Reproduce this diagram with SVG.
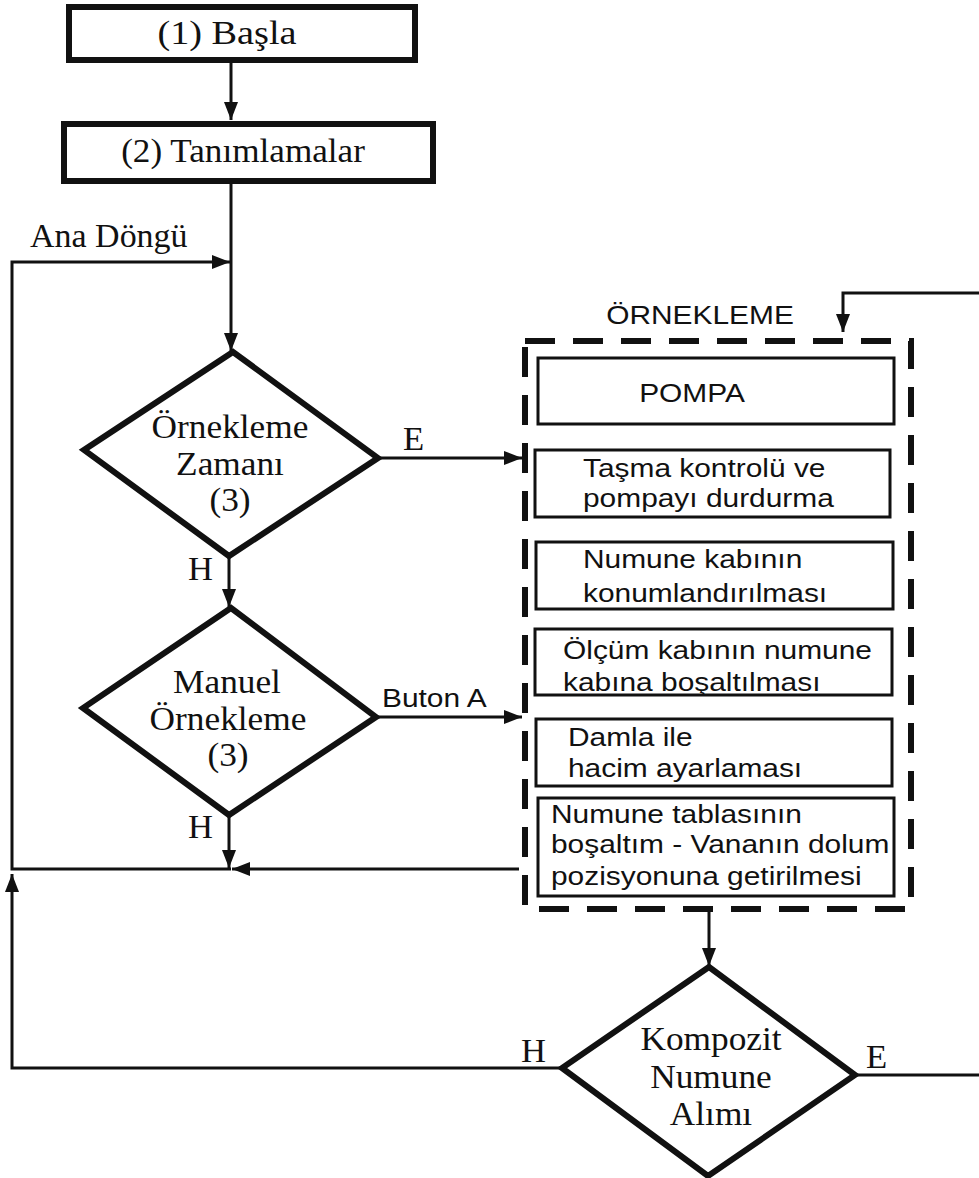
<svg xmlns="http://www.w3.org/2000/svg" width="979" height="1178" viewBox="0 0 979 1178">
<defs>
<marker id="ah" markerUnits="userSpaceOnUse" markerWidth="20" markerHeight="16" refX="18" refY="8" orient="auto">
<path d="M0,1 L18,8 L0,15 Z" fill="#111"/>
</marker>
<style>
.bold{fill:#fff;stroke:#111;stroke-width:6}
.thin{fill:#fff;stroke:#111;stroke-width:3}
.dia{fill:#fff;stroke:#111;stroke-width:6;stroke-linejoin:miter}
.dash{fill:none;stroke:#111;stroke-width:6;stroke-dasharray:30 18}
.conn{fill:none;stroke:#111;stroke-width:3}
.serif{font-family:"Liberation Serif","Times New Roman",serif;font-size:33px;fill:#111}
.sans{font-family:"Liberation Sans",Arial,sans-serif;font-size:26px;fill:#111}
.mid{text-anchor:middle}
</style>
</defs>
<rect width="979" height="1178" fill="#fff"/>

<g id="connectors">
<path class="conn" d="M231,63 V120" marker-end="url(#ah)"/>
<path class="conn" d="M231,184 V351" marker-end="url(#ah)"/>
<path class="conn" d="M231,869 H12 V262 H230" marker-end="url(#ah)"/>
<path class="conn" d="M378,458 H522" marker-end="url(#ah)"/>
<path class="conn" d="M229,556 V607" marker-end="url(#ah)"/>
<path class="conn" d="M376,717 H522" marker-end="url(#ah)"/>
<path class="conn" d="M229,814 V868" marker-end="url(#ah)"/>
<path class="conn" d="M519,869 H232" marker-end="url(#ah)"/>
<path class="conn" d="M709,910 V966" marker-end="url(#ah)"/>
<path class="conn" d="M562,1068 H12 V874" marker-end="url(#ah)"/>
<path class="conn" d="M855,1075 H995 V293 H843 V332" marker-end="url(#ah)"/>
<text class="serif" font-size="34" transform="matrix(1.03 0 0 1 30 247)">Ana Döngü</text>
<text class="serif" transform="matrix(1.05 0 0 1 403 450)">E</text>
<text class="serif" transform="matrix(1.05 0 0 1 188 580)">H</text>
<text class="sans" font-size="25" transform="matrix(1.15 0 0 1 382 707)">Buton A</text>
<text class="serif" transform="matrix(1.05 0 0 1 188 838)">H</text>
<text class="serif" transform="matrix(1.05 0 0 1 521 1062)">H</text>
<text class="serif" transform="matrix(1.05 0 0 1 866 1068)">E</text>
</g>

<g id="n1">
<rect class="bold" x="69" y="7" width="346" height="53"/>
<text class="serif mid" font-size="30" transform="matrix(1.16 0 0 1 227 44)">(1) Başla</text>
</g>
<g id="n2">
<rect class="bold" x="64" y="124" width="369" height="57"/>
<text class="serif mid" transform="matrix(1.065 0 0 1 243 162)">(2) Tanımlamalar</text>
</g>

<g id="d1">
<polygon class="dia" points="233,352 378,458 229,556 84,450"/>
<text class="serif mid" transform="matrix(1.07 0 0 1 230 438)">Örnekleme</text>
<text class="serif mid" transform="matrix(1.07 0 0 1 230 475)">Zamanı</text>
<text class="serif mid" transform="matrix(1.07 0 0 1 230 511)">(3)</text>
</g>

<g id="d2">
<polygon class="dia" points="231,608 376,717 229,815 83,708"/>
<text class="serif mid" transform="matrix(1.07 0 0 1 227 693)">Manuel</text>
<text class="serif mid" transform="matrix(1.07 0 0 1 228 730)">Örnekleme</text>
<text class="serif mid" transform="matrix(1.07 0 0 1 228 766)">(3)</text>
</g>

<g id="ornekleme">
<rect class="dash" x="525" y="341" width="386" height="568"/>
<text class="sans mid" transform="matrix(1.15 0 0 1 700 324)">ÖRNEKLEME</text>
</g>

<g id="b1">
<rect class="thin" x="538" y="358" width="356" height="66"/>
<text class="sans mid" transform="matrix(1.15 0 0 1 692 402)">POMPA</text>
</g>
<g id="b2">
<rect class="thin" x="535" y="450" width="355" height="67"/>
<text class="sans" transform="matrix(1.15 0 0 1 583 477)">Taşma kontrolü ve</text>
<text class="sans" transform="matrix(1.15 0 0 1 583 507)">pompayı durdurma</text>
</g>
<g id="b3">
<rect class="thin" x="536" y="542" width="357" height="67"/>
<text class="sans" transform="matrix(1.15 0 0 1 583 568)">Numune kabının</text>
<text class="sans" transform="matrix(1.15 0 0 1 583 602)">konumlandırılması</text>
</g>
<g id="b4">
<rect class="thin" x="535" y="629" width="357" height="66"/>
<text class="sans" transform="matrix(1.15 0 0 1 563 659)">Ölçüm kabının numune</text>
<text class="sans" transform="matrix(1.15 0 0 1 563 691)">kabına boşaltılması</text>
</g>
<g id="b5">
<rect class="thin" x="536" y="719" width="356" height="67"/>
<text class="sans" transform="matrix(1.15 0 0 1 568 746)">Damla ile</text>
<text class="sans" transform="matrix(1.15 0 0 1 568 777)">hacim ayarlaması</text>
</g>
<g id="b6">
<rect class="thin" x="538" y="798" width="356" height="98"/>
<text class="sans" transform="matrix(1.15 0 0 1 551 823)">Numune tablasının</text>
<text class="sans" transform="matrix(1.15 0 0 1 551 853)">boşaltım - Vananın dolum</text>
<text class="sans" transform="matrix(1.15 0 0 1 551 885)">pozisyonuna getirilmesi</text>
</g>

<g id="d3">
<polygon class="dia" points="709,967 855,1075 708,1176 562,1068"/>
<text class="serif mid" transform="matrix(1.07 0 0 1 711 1050)">Kompozit</text>
<text class="serif mid" transform="matrix(1.07 0 0 1 711 1088)">Numune</text>
<text class="serif mid" transform="matrix(1.07 0 0 1 711 1125)">Alımı</text>
</g>
</svg>
